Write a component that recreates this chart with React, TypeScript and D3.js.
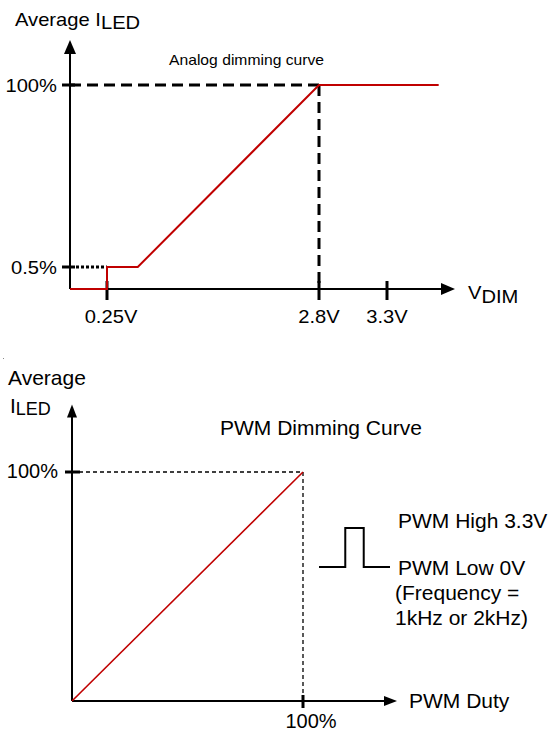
import React from 'react';
import * as d3 from 'd3';

// analog dimming curve (V_DIM in volts, average I_LED in %)
const analogVolts = [0, 0.25, 0.25, 0.62, 2.8, 3.68];
const analogCurrent = [0, 0, 0.5, 0.5, 100, 100];
const analogXTicks = [0.25, 2.8, 3.3];
const analogXLabels = ['0.25V', '2.8V', '3.3V'];
const analogYTicks = [0.5, 100];
const analogYLabels = ['0.5%', '100%'];

// PWM dimming curve (duty in %, average I_LED in %)
const pwmDuty = [0, 100];
const pwmCurrent = [0, 100];
const pwmXTicks = [100];
const pwmXLabels = ['100%'];
const pwmYTicks = [100];
const pwmYLabels = ['100%'];

// one PWM period sketch (time fraction, logic level)
const waveTime = [0, 0.37, 0.37, 0.63, 0.63, 1];
const waveLevel = [0, 0, 1, 1, 0, 0];

const RED = '#c00000';
const FONT = '"Liberation Sans", Arial, sans-serif';

// top chart text is a bit wide in the original
const Wide = ({x, y, size, anchor = 'start', children}: any) => (
  <text transform={`translate(${x},${y}) scale(1.12,1)`} fontSize={size} textAnchor={anchor}>
    {children}
  </text>
);

export default function App() {
  // analog chart scales (schematic, piecewise)
  const xA = d3.scaleLinear().domain([0, 0.25, 2.8, 3.3, 3.8]).range([70, 107, 319, 387, 455]);
  const yA = d3.scaleLinear().domain([0, 0.5, 100, 125]).range([289, 267, 85, 40]);

  const xP = d3.scaleLinear().domain([0, 100]).range([72, 303]);
  const yP = d3.scaleLinear().domain([0, 100]).range([701, 472]);

  const xW = d3.scaleLinear().domain([0, 1]).range([319, 390]);
  const yW = d3.scaleLinear().domain([0, 1]).range([567, 528]);

  const analogLine = d3.line<number>()
    .x((d, i) => xA(analogVolts[i]))
    .y((d, i) => yA(analogCurrent[i]))
    .curve(d3.curveLinear);
  const pwmLine = d3.line<number>()
    .x((d, i) => xP(pwmDuty[i]))
    .y((d, i) => yP(pwmCurrent[i]));
  const waveLine = d3.line<number>()
    .x((d, i) => xW(waveTime[i]))
    .y((d, i) => yW(waveLevel[i]));

  const ax0 = xA(0), ay0 = yA(0);
  const axEnd = xA(3.8), ayEnd = yA(125);
  const px0 = xP(0), py0 = yP(0);
  const pxEnd = xP(140.7), pyEnd = yP(129.5);

  return (
    <svg width={548} height={733} style={{position: 'absolute', left: 0, top: 0, background: '#fff'}}
      fontFamily={FONT} fill="#000">
      {/* ---------- analog dimming ---------- */}
      <text x={15} y={26} fontSize={18} transform="translate(-1.8,0) scale(1.12,1) translate(0,0)">
        Average I<tspan fontSize={18} dy={3.5}>LED</tspan>
      </text>
      <Wide x={169} y={65} size={14}>Analog dimming curve</Wide>

      {/* guide lines */}
      <line x1={ax0} x2={xA(2.8)} y1={yA(100)} y2={yA(100)} stroke="#000" strokeWidth={3} strokeDasharray="11,6" />
      <line x1={xA(2.8)} x2={xA(2.8)} y1={yA(100)} y2={ay0} stroke="#000" strokeWidth={3} strokeDasharray="11,6" />
      <line x1={ax0 + 6} x2={xA(0.25)} y1={yA(0.5)} y2={yA(0.5)} stroke="#000" strokeWidth={3} strokeDasharray="3,2" />

      {/* axes */}
      <line x1={ax0} x2={axEnd - 12} y1={ay0} y2={ay0} stroke="#000" strokeWidth={2} />
      <line x1={ax0} x2={ax0} y1={ay0} y2={ayEnd + 12} stroke="#000" strokeWidth={2} />
      <path d={`M${axEnd},${ay0} L${axEnd - 14},${ay0 - 6} L${axEnd - 14},${ay0 + 6} Z`} />
      <path d={`M${ax0},${ayEnd} L${ax0 - 6},${ayEnd + 14} L${ax0 + 6},${ayEnd + 14} Z`} />

      {analogXTicks.map((t, i) => (
        <g key={'ax' + i}>
          <line x1={xA(t)} x2={xA(t)} y1={ay0 - 8} y2={ay0 + 11} stroke="#000" strokeWidth={3} />
          <Wide x={xA(t) + (i === 0 ? 4 : 0)} y={ay0 + 34} size={18} anchor="middle">{analogXLabels[i]}</Wide>
        </g>
      ))}
      {analogYTicks.map((t, i) => (
        <g key={'ay' + i}>
          <line x1={ax0 - 8} x2={ax0 + 5} y1={yA(t)} y2={yA(t)} stroke="#000" strokeWidth={3} />
          <Wide x={57} y={yA(t) + 6.5} size={18} anchor="end">{analogYLabels[i]}</Wide>
        </g>
      ))}
      <text transform={`translate(${axEnd + 13},${ay0 + 10}) scale(1.12,1)`} fontSize={18}>
        V<tspan dy={3.5}>DIM</tspan>
      </text>

      <path d={analogLine(analogVolts) || ''} fill="none" stroke={RED} strokeWidth={2} />

      {/* stray mark */}
      <rect x={3} y={358} width={1} height={1} fill="#888" />

      {/* ---------- PWM dimming ---------- */}
      <text x={8} y={385} fontSize={21}>Average</text>
      <text x={10} y={413} fontSize={21}>I<tspan fontSize={18} dy={2}>LED</tspan></text>
      <text x={220} y={435} fontSize={21}>PWM Dimming Curve</text>

      <line x1={px0} x2={xP(100)} y1={yP(100)} y2={yP(100)} stroke="#000" strokeWidth={1.3} strokeDasharray="4,3" />
      <line x1={xP(100)} x2={xP(100)} y1={yP(100)} y2={py0} stroke="#000" strokeWidth={1.3} strokeDasharray="4,3" />

      <line x1={px0} x2={pxEnd - 11} y1={py0} y2={py0} stroke="#000" strokeWidth={2} />
      <line x1={px0} x2={px0} y1={py0} y2={pyEnd + 11} stroke="#000" strokeWidth={2} />
      <path d={`M${pxEnd},${py0} L${pxEnd - 13},${py0 - 5} L${pxEnd - 13},${py0 + 5} Z`} />
      <path d={`M${px0},${pyEnd} L${px0 - 5},${pyEnd + 13} L${px0 + 5},${pyEnd + 13} Z`} />

      {pwmXTicks.map((t, i) => (
        <g key={'px' + i}>
          <line x1={xP(t)} x2={xP(t)} y1={py0 - 6} y2={py0 + 7} stroke="#000" strokeWidth={3} />
          <text x={xP(t) + 8} y={py0 + 27} fontSize={20} textAnchor="middle">{pwmXLabels[i]}</text>
        </g>
      ))}
      {pwmYTicks.map((t, i) => (
        <g key={'py' + i}>
          <line x1={px0 - 7} x2={px0 + 8} y1={yP(t)} y2={yP(t)} stroke="#000" strokeWidth={3} />
          <text x={58} y={yP(t) + 6} fontSize={20} textAnchor="end">{pwmYLabels[i]}</text>
        </g>
      ))}
      <text x={pxEnd + 12} y={py0 + 7} fontSize={21}>PWM Duty</text>

      <path d={pwmLine(pwmDuty) || ''} fill="none" stroke={RED} strokeWidth={1.6} />

      <path d={waveLine(waveTime) || ''} fill="none" stroke="#000" strokeWidth={2} />
      <text x={398} y={528} fontSize={21}>PWM High 3.3V</text>
      <text x={398} y={575} fontSize={21}>PWM Low 0V</text>
      <text x={395} y={600} fontSize={21}>(Frequency =</text>
      <text x={395} y={625} fontSize={21}>1kHz or 2kHz)</text>
    </svg>
  );
}
